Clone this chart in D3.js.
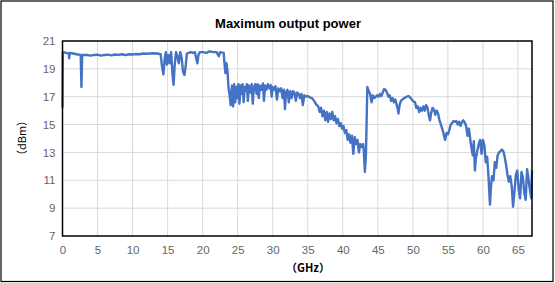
<!DOCTYPE html>
<html>
<head>
<meta charset="utf-8">
<script src="https://cdn.jsdelivr.net/npm/d3@7"></script>
<style>
  body { margin: 0; background: #fff; }
  svg { display: block; }
</style>
</head>
<body>
<svg width="555" height="283"></svg>
<script>
// data (GHz, dBm)
var freq = [
  0, 0.05, 0.5, 0.9, 0.95, 1.05, 1.5, 2.0, 2.6, 2.7, 2.8, 2.9, 3.5, 4, 4.5, 5, 5.5, 6, 6.5, 7, 7.5, 8, 8.5, 9, 9.5, 10,
  10.5, 11, 11.5, 12, 12.5, 13, 13.5, 14.0,
  14.2, 14.4, 14.6, 14.75, 14.9, 15.1, 15.3, 15.5, 15.7, 15.85, 16.0, 16.2, 16.4, 16.6, 16.8, 17.0, 17.2, 17.4, 17.6,
  17.75, 18.0, 18.3, 18.6, 18.9, 19.1, 19.25, 19.4, 19.6, 20, 20.5, 21, 21.5, 22, 22.3, 22.5, 23.0, 23.1, 23.25, 23.4,
  23.55, 23.7, 23.85, 24.0, 24.1,
  24.2, 24.35, 24.5, 24.65, 24.8, 24.95, 25.1, 25.25, 25.4, 25.55, 25.7, 25.85, 26.0, 26.15, 26.3, 26.45, 26.6, 26.8,
  27.0, 27.15, 27.3, 27.5, 27.7, 27.85, 28.0, 28.2, 28.4, 28.6, 28.75, 28.9, 29.1, 29.3, 29.5, 29.7, 29.85, 30.0, 30.2,
  30.4, 30.6, 30.8, 31.0, 31.2, 31.4, 31.6, 31.75, 31.9, 32.1, 32.3, 32.5, 32.7, 32.9, 33.1, 33.3, 33.5, 33.7, 33.9,
  34.1, 34.3, 34.5, 34.7, 35.0, 35.3, 35.6, 35.9, 36.2, 36.5, 36.7, 36.9, 37.1, 37.3, 37.5, 37.7, 37.9, 38.1, 38.3,
  38.5, 38.7, 38.9, 39.1, 39.3, 39.5, 39.7, 39.9, 40.1, 40.3, 40.5, 40.7, 40.9, 41.1, 41.3, 41.5, 41.7, 41.9, 42.1,
  42.3, 42.5, 42.7, 42.9, 43.0, 43.15, 43.3, 43.5, 43.7, 43.9, 44.1, 44.3, 44.5, 44.7, 44.9, 45.1, 45.3, 45.5, 45.7,
  45.9, 46.1, 46.3, 46.5, 46.7, 46.9, 47.1, 47.3, 47.5, 47.8, 47.95, 48.1, 48.3, 48.5, 48.8, 49.1, 49.4, 49.7, 50.0,
  50.3, 50.5, 50.7, 50.9, 51.1, 51.3, 51.5, 51.7, 51.9, 52.1, 52.3, 52.45, 52.6, 52.8, 53.0, 53.2, 53.4, 53.6, 53.8,
  54.0, 54.2, 54.4, 54.6, 54.8, 55.0, 55.2, 55.4, 55.6, 55.8, 56.0, 56.2, 56.4, 56.6, 56.8, 57.0, 57.2, 57.4, 57.6,
  57.8, 58.0, 58.2, 58.4, 58.55, 58.7, 58.85, 59.0, 59.2, 59.4, 59.6, 59.8, 60.0, 60.2, 60.4, 60.6, 60.8, 61.0, 61.15,
  61.3, 61.5, 61.7, 61.9, 62.1, 62.3, 62.5, 62.7, 62.9, 63.1, 63.3, 63.5, 63.7, 63.9, 64.1, 64.3, 64.5, 64.7, 64.9,
  65.1, 65.3, 65.5, 65.7, 65.9, 66.1, 66.3, 66.5, 66.7, 66.9, 67.0
];
var power = [
  16.2, 20.2, 20.15, 20.1, 19.75, 20.15, 20.1, 20.05, 20.0, 17.7, 19.9, 20.0, 20.0, 19.95, 20.0, 20.02, 19.95, 20.0,
  20.02, 19.97, 20.03, 20.0, 20.05, 19.98, 20.05, 20.03, 20.07, 20.05, 20.1, 20.08, 20.1, 20.12, 20.1, 20.05,
  19.2, 18.6, 19.8, 20.2, 19.3, 20.0, 19.4, 20.2, 18.6, 17.85, 19.2, 20.2, 19.9, 19.4, 20.2, 19.8, 18.8, 18.55, 19.3,
  20.1, 20.15, 20.2, 20.15, 20.2, 19.7, 19.4, 20.0, 20.2, 20.2, 20.15, 20.25, 20.2, 20.2, 19.9, 20.2, 20.15, 19.5,
  18.7, 19.4, 18.8, 17.6, 17.1, 16.4, 17.4,
  17.8, 16.3, 17.9, 16.6, 17.7, 16.9, 17.9, 16.5, 17.8, 17.2, 17.9, 16.6, 17.7, 17.4, 17.9, 16.7, 17.8, 17.3,
  17.9, 16.5, 17.6, 17.9, 17.2, 17.9, 16.9, 17.8, 17.5, 17.95, 16.7, 17.8, 17.5, 17.9, 17.6, 17.85, 17.0, 17.7, 17.5,
  17.75, 16.8, 17.6, 17.4, 17.6, 16.9, 17.5, 16.1, 17.3, 17.5, 16.6, 17.4, 16.9, 17.4, 17.3, 16.7, 17.3, 17.2, 16.9,
  17.2, 16.4, 17.1, 17.0, 17.05, 16.95, 16.9, 16.7, 16.45, 16.3, 15.9, 16.2, 15.6, 16.0, 15.3, 15.9, 15.2, 15.8, 15.4,
  15.9, 15.3, 15.6, 15.1, 15.4, 14.9, 15.1, 14.7, 14.9, 14.4, 14.6, 13.9, 14.3, 13.7, 14.2, 12.9, 14.1, 13.6, 13.9,
  13.0, 13.6, 13.4, 13.6, 13.1, 11.6, 12.8, 17.7, 17.4, 17.2, 16.6, 17.1, 16.9, 17.0, 17.1, 17.0, 17.2, 17.05, 17.3,
  17.55, 17.5, 17.3, 17.0, 17.1, 16.7, 16.9, 16.6, 16.8, 16.2, 15.8, 16.4, 16.7, 16.8, 16.9, 17.0, 17.05, 16.9, 16.7,
  16.6, 16.2, 16.3, 15.9, 16.2, 16.0, 16.3, 16.0, 16.4, 16.2, 15.6, 15.3, 15.8, 16.2, 16.1, 15.7, 16.0, 15.8, 15.3,
  15.0, 14.7, 14.3, 13.9, 14.4, 14.3, 14.6, 15.0, 15.1, 15.25, 15.2, 15.25, 15.0, 15.2, 14.9, 15.2, 15.3, 15.15, 14.9,
  14.2, 14.7, 13.9, 13.2, 12.8, 13.8, 11.7, 12.6, 13.1, 13.6, 13.9, 12.9, 13.9, 13.5, 12.3, 12.7, 11.2, 9.25, 10.6,
  11.3, 11.0, 12.3, 11.9, 12.8, 13.0, 13.1, 13.2, 13.1, 12.7, 12.1, 11.4, 10.9, 11.3, 10.6, 9.1, 10.2, 11.4, 11.7,
  10.3, 9.7, 11.6, 11.2, 10.1, 9.6, 11.8, 11.1, 10.3, 9.7, 11.7
];
var xTicks = [0, 5, 10, 15, 20, 25, 30, 35, 40, 45, 50, 55, 60, 65];
var yTicks = [7, 9, 11, 13, 15, 17, 19, 21];

var svg = d3.select("svg"),
    width = +svg.attr("width"),
    height = +svg.attr("height");

var pLeft = 62.5, pRight = 532, pTop = 41, pBottom = 236;

var x = d3.scaleLinear().domain([0, 67]).range([pLeft, pRight]);
var y = d3.scaleLinear().domain([7, 21]).range([pBottom, pTop]);

// outer frame
svg.append("rect")
  .attr("x", 1).attr("y", 1)
  .attr("width", width - 3).attr("height", height - 2.5)
  .attr("fill", "none").attr("stroke", "#000").attr("stroke-width", 1.2);

// title
svg.append("text")
  .attr("x", 288).attr("y", 28)
  .attr("text-anchor", "middle")
  .style("font-family", "Liberation Sans, Arial, sans-serif")
  .style("font-size", "13px").style("font-weight", "bold")
  .text("Maximum output power");

// grid
var grid = svg.append("g").attr("stroke", "#d9d9d9").attr("stroke-width", 1);
grid.selectAll(".vg").data(xTicks.filter(function(d){ return d > 0; }))
  .enter().append("line")
    .attr("x1", function(d){ return x(d); }).attr("x2", function(d){ return x(d); })
    .attr("y1", pTop).attr("y2", pBottom);
grid.selectAll(".hg").data(yTicks.filter(function(d){ return d > 7 && d < 21; }))
  .enter().append("line")
    .attr("x1", pLeft).attr("x2", pRight)
    .attr("y1", function(d){ return y(d); }).attr("y2", function(d){ return y(d); });

// axes labels (no tick marks)
var xAxis = d3.axisBottom(x).tickValues(xTicks).tickSize(0).tickPadding(10);
var gx = svg.append("g").attr("transform", "translate(0," + pBottom + ")").call(xAxis);
var yAxis = d3.axisLeft(y).tickValues(yTicks).tickSize(0).tickPadding(7);
var gy = svg.append("g").attr("transform", "translate(" + pLeft + ",0)").call(yAxis);
[gx, gy].forEach(function(g){
  g.select(".domain").remove();
  g.selectAll("text")
    .attr("fill", "#666")
    .style("font-family", "Liberation Sans, Arial, sans-serif")
    .style("font-size", "11.5px");
});

// the line
var line = d3.line()
  .x(function(d, i){ return x(freq[i]); })
  .y(function(d){ return y(d); });

svg.append("path")
  .datum(power)
  .attr("fill", "none")
  .attr("stroke", "#4472c4")
  .attr("stroke-width", 2.4)
  .attr("stroke-linejoin", "round")
  .attr("d", line);

// plot frame
svg.append("rect")
  .attr("x", pLeft).attr("y", pTop)
  .attr("width", pRight - pLeft).attr("height", pBottom - pTop)
  .attr("fill", "none").attr("stroke", "#000").attr("stroke-width", 1.5);

// axis titles
svg.append("text")
  .attr("x", 308).attr("y", 272)
  .attr("text-anchor", "middle")
  .style("font-family", "Noto Sans CJK SC, sans-serif")
  .style("font-size", "11px").style("font-weight", "bold")
  .text("（GHz）");

svg.append("text")
  .attr("transform", "translate(26,138) rotate(-90)")
  .attr("text-anchor", "middle")
  .style("font-family", "Noto Sans CJK SC, sans-serif")
  .style("font-size", "11px")
  .text("（dBm）");
</script>
</body>
</html>
